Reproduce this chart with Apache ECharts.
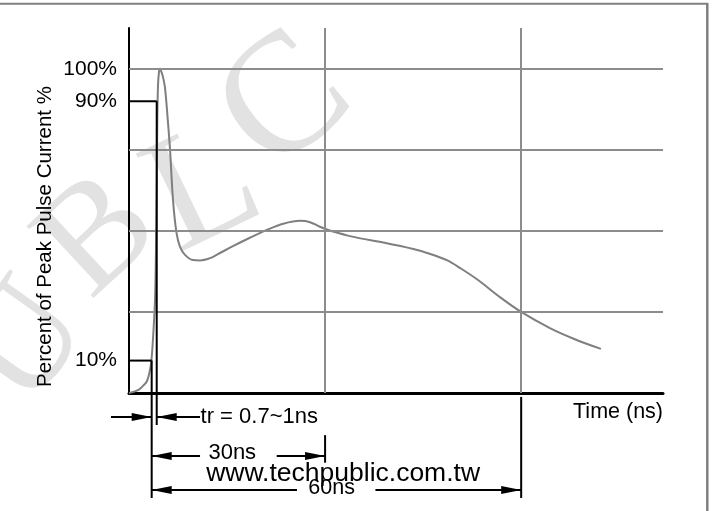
<!DOCTYPE html>
<html><head><meta charset="utf-8">
<script src="https://cdn.jsdelivr.net/npm/echarts@6/dist/echarts.min.js"></script>
<style>html,body{margin:0;padding:0;background:#fff}#c{width:713px;height:511px}</style>
</head><body><div id="c"></div>
<script>
// ---- data (time in ns, current in % of peak) ----
const timeNs = [0, 1.38, 2.14, 2.76, 3.21, 3.44, 3.75, 3.98, 4.13, 4.25, 4.33, 4.44, 4.59, 4.75, 4.97, 5.2, 5.51, 5.97, 6.28, 6.73, 7.27, 7.81, 8.57, 9.8, 10.87, 12.4, 13.47, 15.9, 18.5, 21.1, 23.6, 26.2, 27.7, 29.2, 31.2, 33.8, 35.4, 38.9, 43.5, 46.1, 48.7, 50.7, 53.3, 56.8, 60, 64.4, 68.3, 72.2];
const currentPct = [0, 0.9, 2.2, 3.7, 7.1, 10.2, 19.4, 28.7, 44.1, 65.7, 84.3, 95, 99.1, 100, 99, 97.5, 94.1, 83.3, 75, 59.6, 49.4, 45.1, 42.6, 41, 40.9, 41.6, 42.7, 45.3, 47.9, 50.3, 52.2, 53.1, 52.7, 51.3, 49.8, 48.4, 47.7, 46.4, 44.4, 42.9, 40.9, 38.5, 35.0, 29.5, 25, 20.0, 16.5, 13.6];
const yTickLabels = [10, 90, 100];
const gridTimes = [30, 60];
const gridPcts = [25, 50, 75, 100];
const xMax = 81.7, yMax = 112.6;
// rise-time markers (ns) at 10% and 90%
const t10 = 3.47, t90 = 4.24;

const FONT = '"Liberation Sans", Arial, sans-serif';
const chart = echarts.init(document.getElementById('c'), null, {renderer: 'canvas'});
const gridMarks = []
  .concat(gridTimes.map(t => [{coord: [t, 0]}, {coord: [t, yMax]}]))
  .concat(gridPcts.map(v => [{coord: [0, v]}, {coord: [xMax, v]}]));

chart.setOption({
  animation: false,
  grid: {left: 129, top: 28, right: 50, bottom: 118},
  xAxis: {type: 'value', min: 0, max: xMax,
    axisLine: {lineStyle: {color: '#000', width: 3}}, axisTick: {show: false},
    axisLabel: {show: false}, splitLine: {show: false}},
  yAxis: {type: 'value', min: 0, max: yMax,
    axisLine: {show: true, lineStyle: {color: '#000', width: 2}}, axisTick: {show: false},
    splitLine: {show: false},
    axisLabel: {customValues: yTickLabels, formatter: '{value}%', margin: 12, color: '#000', fontSize: 21, fontFamily: FONT}},
  series: [
    {type: 'line', data: [], z: 1,
     markLine: {silent: true, symbol: 'none', animation: false, label: {show: false},
       lineStyle: {color: '#8c8c8c', type: 'solid', width: 2}, data: gridMarks}},
    {type: 'line', z: 3, showSymbol: false, smooth: 0.35,
     data: timeNs.map((t, i) => [t, currentPct[i]]),
     lineStyle: {color: '#7f7f7f', width: 2}}
  ]
});

const P = (t, v) => chart.convertToPixel({gridIndex: 0}, [t, v]);
const g = [];
function seg(a, b) {
  const p = P(a[0], a[1]), q = P(b[0], b[1]);
  g.push({type: 'line', z: 10, shape: {x1: p[0], y1: p[1], x2: q[0], y2: q[1]}, style: {stroke: '#000', lineWidth: 2}});
}
function arrow(fromT, toT, v) {
  seg([fromT, v], [toT, v]);
  const tip = P(toT, v), dir = Math.sign(P(toT, v)[0] - P(fromT, v)[0]);
  const L = 20, W = 4;
  g.push({type: 'polygon', z: 11, shape: {points: [[tip[0], tip[1]], [tip[0] - dir * L, tip[1] - W], [tip[0] - dir * L, tip[1] + W]]}, style: {fill: '#000'}});
}
function text(t, v, s, size, align) {
  const p = P(t, v);
  g.push({type: 'text', z: 12, x: p[0], y: p[1], style: {text: s, fill: '#000', font: size + 'px ' + FONT, align: align || 'center', verticalAlign: 'middle'}});
}
// marker lines
seg([0, 90], [t90, 90]); seg([t90, 90], [t90, -9.9]);
seg([0, 10], [t10, 10]); seg([t10, 10], [t10, -32.4]);
seg([30, -13], [30, -21.5]);
seg([60, -1.2], [60, -32.4]);
// arrows
arrow(-2.76, t10, -7.4); arrow(10.87, t90, -7.4);
arrow(10.87, t10, -19.4); arrow(22.6, 30, -19.4);
arrow(25.7, t10, -29.9); arrow(37.7, 60, -29.9);
// texts
text(10.95, -7.3, 'tr = 0.7~1ns', 22, 'left');
text(15.8, -18.5, '30ns', 22);
text(31.0, -29.2, '60ns', 21.5);
text(xMax, -6.0, 'Time (ns)', 21.5, 'right');
text(11.8, -25, 'www.techpublic.com.tw', 26.5, 'left');

// y-axis title, frame, watermark (layout)
g.push({type: 'text', z: 12, x: 44.9, y: 236.5, rotation: Math.PI / 2,
  style: {text: 'Percent of Peak Pulse Current %', fill: '#000', font: '20.5px ' + FONT, align: 'center', verticalAlign: 'middle'}});
g.push({type: 'line', z: 12, shape: {x1: 0, y1: 3.7, x2: 708, y2: 3.7}, style: {stroke: '#808080', lineWidth: 2}});
g.push({type: 'line', z: 12, shape: {x1: 707.3, y1: 3, x2: 707.3, y2: 511}, style: {stroke: '#808080', lineWidth: 2.5}});
const wm = [['U', 28, 345, 0.95, 150], ['B', 100, 238, 0.75, 150], ['L', 205, 192, 0.45, 165], ['C', 287, 105, 0.7, 170]];
wm.forEach(w => g.push({type: 'text', z: 0, x: w[1], y: w[2], rotation: w[3],
  style: {text: w[0], fill: '#e2e2e2', font: w[4] + 'px "Liberation Serif", serif', align: 'center', verticalAlign: 'middle'}}));
chart.setOption({graphic: g});
</script>
</body></html>
